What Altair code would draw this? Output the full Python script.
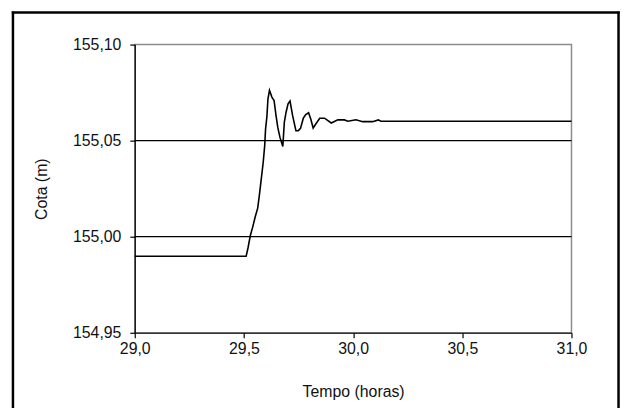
import altair as alt
import pandas as pd

# Time (hours) and water level (m)
tempo = [29.0, 29.51, 29.519, 29.529, 29.540, 29.552, 29.563, 29.570, 29.579, 29.588,
         29.595, 29.599, 29.605, 29.610, 29.617, 29.628, 29.638, 29.647, 29.655, 29.665,
         29.678, 29.685, 29.693, 29.702, 29.711, 29.723, 29.738, 29.749, 29.759, 29.772,
         29.783, 29.796, 29.806, 29.817, 29.829, 29.847, 29.869, 29.900, 29.930, 29.960,
         29.976, 30.013, 30.044, 30.089, 30.116, 30.127, 31.0]
cota = [154.9898, 154.9898, 154.9944, 155.0005, 155.0050, 155.0105, 155.0149, 155.0210, 155.0297, 155.0385,
        155.0473, 155.0560, 155.0624, 155.0718, 155.0762, 155.0727, 155.0709, 155.0630, 155.0569, 155.0517,
        155.0470, 155.0596, 155.0648, 155.0692, 155.0706, 155.0630, 155.0552, 155.0552, 155.0564, 155.0617,
        155.0636, 155.0645, 155.0613, 155.0566, 155.0587, 155.0617, 155.0617, 155.0592, 155.0609, 155.0608,
        155.0601, 155.0609, 155.0599, 155.0599, 155.0608, 155.0601, 155.0601]

grid_levels = [155.00, 155.05]
x_ticks = [29.0, 29.5, 30.0, 30.5, 31.0]
y_ticks = [154.95, 155.00, 155.05, 155.10]

df = pd.DataFrame({"t": tempo, "v": cota})
gdf = pd.DataFrame({"v": grid_levels})

FONT = "Liberation Sans"
x_scale = alt.Scale(domain=[29.0, 31.0], nice=False, zero=False)
y_scale = alt.Scale(domain=[154.95, 155.10], nice=False, zero=False)

line = alt.Chart(df).mark_line(color="black", strokeWidth=1.6).encode(
    x=alt.X("t:Q", scale=x_scale,
            axis=alt.Axis(title="Tempo (horas)", values=x_ticks,
                          labelExpr="replace(format(datum.value, '.1f'), '.', ',')",
                          labelFlush=False, labelOverlap=False,
                          grid=False, tickSize=5, labelPadding=3, titlePadding=27,
                          labelFontSize=16, titleFontSize=16,
                          domainColor="black", tickColor="black")),
    y=alt.Y("v:Q", scale=y_scale,
            axis=alt.Axis(title="Cota (m)", values=y_ticks,
                          labelExpr="replace(format(datum.value, '.2f'), '.', ',')",
                          labelFlush=False, labelOverlap=False,
                          grid=False, tickSize=5, labelPadding=9, titlePadding=23,
                          labelFontSize=16, titleFontSize=16,
                          domainColor="black", tickColor="black")),
    order="t:Q",
)

grid = alt.Chart(gdf).mark_rule(color="black", strokeWidth=1.2).encode(
    y=alt.Y("v:Q", scale=y_scale)
)

frame_left = alt.Chart(pd.DataFrame({"a": [0]})).mark_rule(color="black", strokeWidth=2.5).encode(
    x=alt.value(-123), y=alt.value(-33.5), y2=alt.value(400)
)
frame_right = alt.Chart(pd.DataFrame({"a": [0]})).mark_rule(color="black", strokeWidth=2.5).encode(
    x=alt.value(488.5), y=alt.value(-33.5), y2=alt.value(400)
)
frame_top = alt.Chart(pd.DataFrame({"a": [0]})).mark_rule(color="black", strokeWidth=2.5).encode(
    x=alt.value(-124.2), x2=alt.value(489.7), y=alt.value(-32.5)
)

chart = alt.layer(grid, line, frame_left, frame_right, frame_top).properties(
    width=441, height=291,
    background="white",
    autosize=alt.AutoSizeParams(type="none"),
    padding={"left": 128, "top": 35, "right": 50, "bottom": 74},
).configure_view(
    stroke="#8c8c8c", strokeWidth=1.5
).configure_axis(
    labelFont=FONT, titleFont=FONT,
    labelColor="#111111", titleColor="#111111", titleFontWeight="normal",
    domainWidth=1.2, tickWidth=1.2,
)

chart.save("out.html", embed_options={"renderer": "svg", "actions": False})
